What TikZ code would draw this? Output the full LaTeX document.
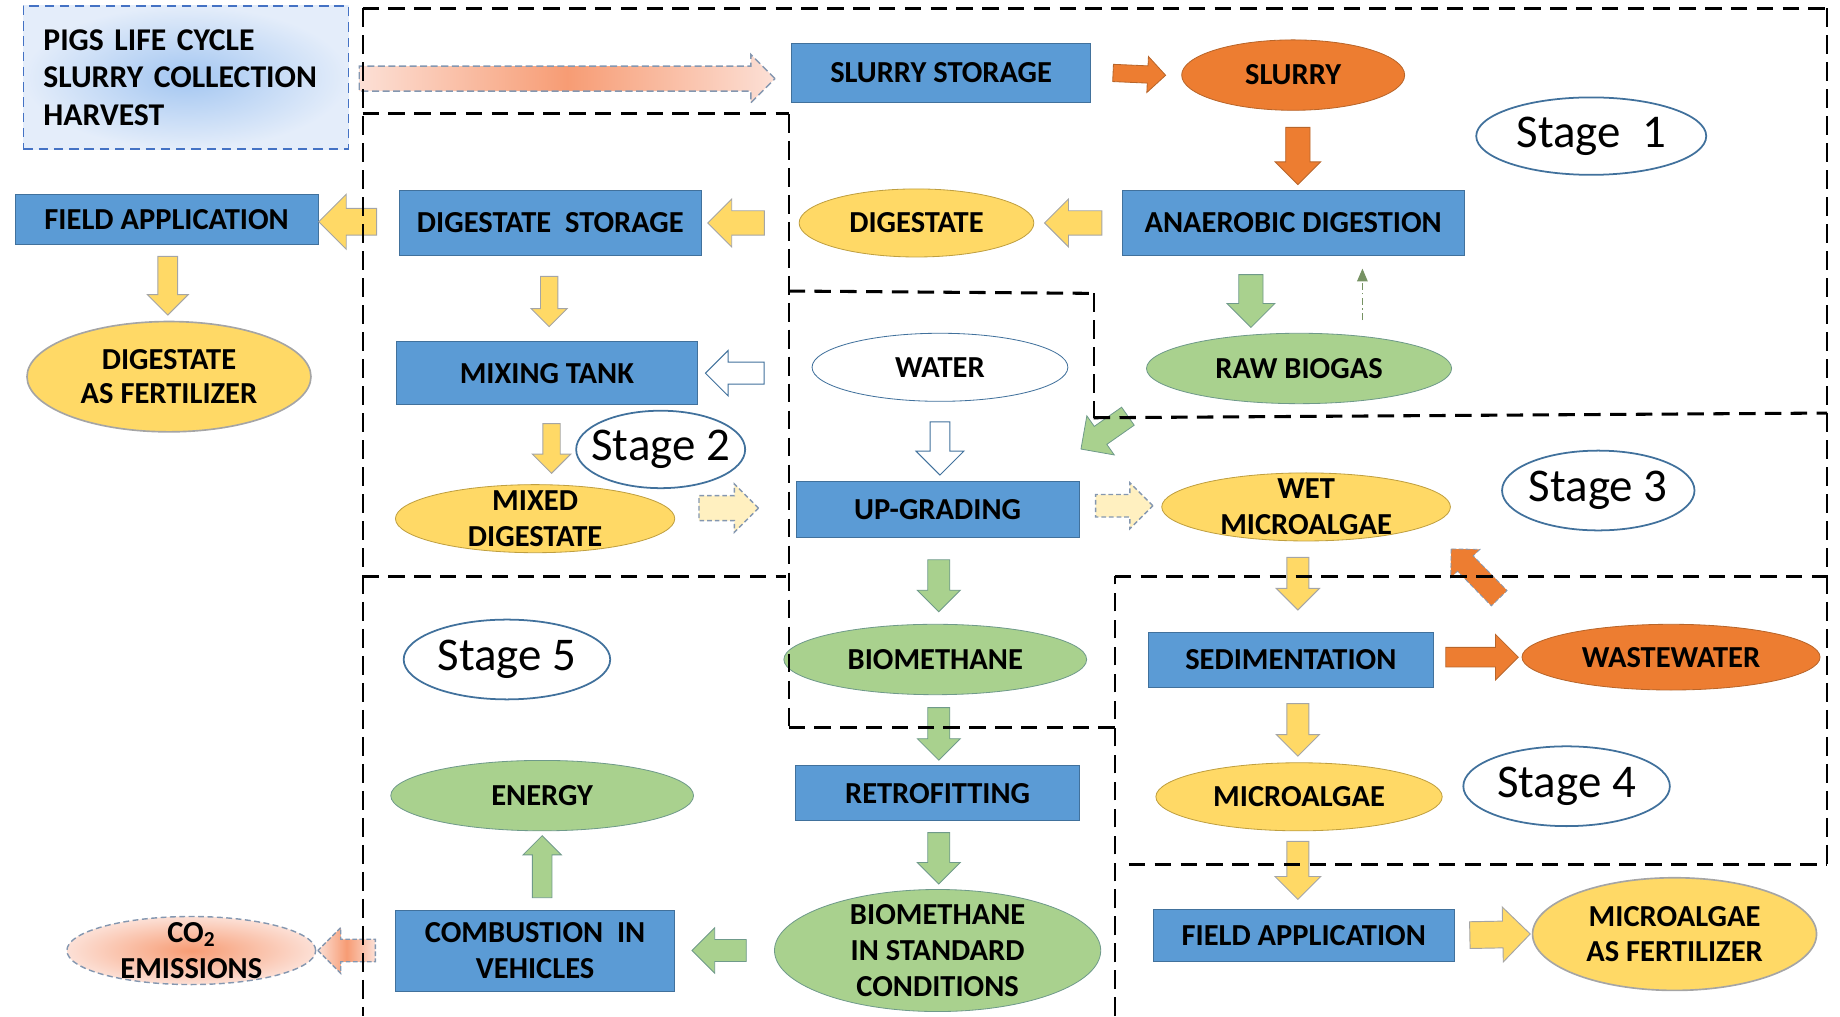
\documentclass[tikz,border=0pt]{standalone}
\usepackage{fontspec}
\setmainfont{Carlito}
\usetikzlibrary{shapes.geometric,shapes.arrows,calc,arrows.meta}

\definecolor{bl}{HTML}{5B9BD5}
\definecolor{blD}{HTML}{41719C}
\definecolor{org}{HTML}{ED7D31}
\definecolor{orgD}{HTML}{B8652A}
\definecolor{yel}{HTML}{FFD966}
\definecolor{yelD}{HTML}{BF9F40}
\definecolor{grn}{HTML}{A9D18E}
\definecolor{grnD}{HTML}{6F9A8A}
\definecolor{gry}{HTML}{A5A5A5}
\definecolor{dgry}{HTML}{8497B0}
\definecolor{lyel}{HTML}{FFF0C0}
\definecolor{pinkL}{HTML}{FCE0D6}
\definecolor{pinkM}{HTML}{F79C74}
\definecolor{topIn}{HTML}{A3C6F1}
\definecolor{topOut}{HTML}{E4EDFA}
\definecolor{topDash}{HTML}{4472C4}

\newcommand\lbl{\fontsize{26}{31}\selectfont\bfseries}
\newcommand\stg{\fontsize{40}{44}\selectfont}

\newcommand\barrow[3]{\path let \p1=(#2), \p2=(#3),
  \n1={atan2(\y2-\y1,\x2-\x1)}, \n2={veclen(\x2-\x1,\y2-\y1)} in
  node[single arrow, inner xsep=0pt, single arrow head indent=0pt, #1,
       rotate=\n1, minimum height=\n2] at ($(\p1)!0.5!(\p2)$) {};}

\tikzset{
  box/.style={rectangle, fill=bl, draw=blD, line width=0.7, inner sep=0pt, font=\lbl, align=center},
  ell/.style={ellipse, line width=0.7, inner sep=-45pt, font=\lbl, align=center},
  stage/.style={ellipse, draw=blD, line width=1.5, fill=white, inner sep=-30pt, font=\stg},
  ba/.style 2 args={inner ysep=#1, single arrow head extend=#2},
  oarr/.style={fill=org, draw=orgD, line width=0.7},
  yarr/.style={fill=yel, draw=gry, line width=0.8},
  garr/.style={fill=grn, draw=grnD, line width=0.7},
  warr/.style={fill=white, draw=blD, line width=0.8},
  dyarr/.style={fill=lyel, draw=dgry, line width=1.2, dash pattern=on 4pt off 2.5pt},
  parr/.style={draw=dgry, line width=1.2, left color=pinkL, right color=pinkL, middle color=pinkM},
  regH/.style={line width=2.6, dash pattern=on 14pt off 8pt},
  regV/.style={line width=1.8, dash pattern=on 16pt off 7pt},
}

\begin{document}
\begin{tikzpicture}[x=1pt,y=-1pt]
\useasboundingbox (0,0) rectangle (1568,866);

% ---- top-left source box
\node[rectangle, draw=topDash, line width=1.6, dash pattern=on 8pt off 5pt,
      inner color=topIn, outer color=topOut, minimum width=277, minimum height=122,
      text width=243, align=left, inner sep=0pt, font=\fontsize{27}{32}\selectfont\bfseries]
      (plc) at (158.5,66) {PIGS LIFE CYCLE\\SLURRY COLLECTION\\HARVEST};

% ---- nodes
\node[box, minimum width=255, minimum height=50] (ss) at (802,62) {SLURRY STORAGE};
\node[ell, fill=org, draw=orgD, minimum width=190, minimum height=60] (sl) at (1102,64) {SLURRY};
\node[stage, minimum width=196, minimum height=66] (s1) at (1356,116) {Stage\ \ 1};
\node[box, minimum width=291, minimum height=55] (ad) at (1102,190) {ANAEROBIC DIGESTION};
\node[ell, fill=yel, draw=yelD, minimum width=200, minimum height=58] (dg) at (781,190) {DIGESTATE};
\node[box, minimum width=258, minimum height=55] (ds) at (469,190) {DIGESTATE\ \ STORAGE};
\node[box, minimum width=258, minimum height=42] (fa1) at (142,187) {FIELD APPLICATION};
\node[ell, fill=yel, draw=gry, line width=1.4, minimum width=242, minimum height=94] (daf) at (144,321) {DIGESTATE\\[-2pt]AS FERTILIZER};
\node[box, minimum width=257, minimum height=54] (mt) at (466,318) {MIXING TANK};
\node[ell, fill=white, draw=blD, minimum width=218, minimum height=58] (wt) at (801,313) {WATER};
\node[ell, fill=grn, draw=grnD, minimum width=260, minimum height=60] (rb) at (1107,314) {RAW BIOGAS};
\node[ell, fill=yel, draw=yelD, minimum width=238, minimum height=58] (md) at (456,442) {MIXED\\DIGESTATE};
\node[stage, minimum width=144, minimum height=66] (s2) at (563,383) {Stage 2};
\node[box, minimum width=241, minimum height=48] (ug) at (799,434) {UP-GRADING};
\node[ell, fill=yel, draw=yelD, minimum width=246, minimum height=58] (wm) at (1113,432) {WET\\MICROALGAE};
\node[stage, minimum width=164, minimum height=68] (s3) at (1362,418) {Stage 3};
\node[ell, fill=grn, draw=grnD, minimum width=258, minimum height=60] (bm) at (797,562) {BIOMETHANE};
\node[box, minimum width=243, minimum height=47] (sd) at (1100,562) {SEDIMENTATION};
\node[ell, fill=org, draw=orgD, minimum width=254, minimum height=56] (ww) at (1424,560) {WASTEWATER};
\node[stage, minimum width=176, minimum height=68] (s5) at (432,562) {Stage 5};
\node[box, minimum width=242, minimum height=47] (rf) at (799,676) {RETROFITTING};
\node[ell, fill=yel, draw=yelD, minimum width=244, minimum height=58] (ma) at (1107,679) {MICROALGAE};
\node[stage, minimum width=176, minimum height=68] (s4) at (1335,670) {Stage 4};
\node[ell, fill=grn, draw=grnD, minimum width=258, minimum height=60] (en) at (462,678) {ENERGY};
\node[ell, fill=grn, draw=grnD, minimum width=278, minimum height=104] (bsc) at (799,810) {BIOMETHANE\\IN STANDARD\\CONDITIONS};
\node[box, minimum width=238, minimum height=69] (cv) at (456,810) {COMBUSTION\ \ IN\\VEHICLES};
\node[ell, draw=dgry, line width=1.2, dash pattern=on 5pt off 3pt, inner color=pinkM, outer color=pinkL,
      minimum width=212, minimum height=58] (co) at (163,810) {CO\textsubscript{2}\\EMISSIONS};
\node[box, minimum width=257, minimum height=44] (fa2) at (1111,797) {FIELD APPLICATION};
\node[ell, fill=yel, draw=gry, line width=1.4, minimum width=242, minimum height=96] (maf) at (1427,796) {MICROALGAE\\[-2pt]AS FERTILIZER};

% ---- block arrows
\barrow{parr, dash pattern=on 6pt off 3pt, ba={10}{10}}{$(plc.east)+(3,1)$}{$(ss.west)+(-19,5)$}
\barrow{oarr, ba={7}{8}}{$(ss.east)+(15,0)$}{$(sl.west)+(-17,0)$}
\barrow{oarr, ba={10}{9}}{$(sl.south)+(4,9)$}{$(ad.north)+(4,-10)$}
\barrow{yarr, ba={10}{10}}{$(ad.west)+(-12,0)$}{$(dg.east)+(14,0)$}
\barrow{yarr, ba={10}{10}}{$(dg.west)+(-24,0)$}{$(ds.east)+(10,0)$}
\barrow{yarr, ba={11}{12}}{$(ds.west)+(-13,-1)$}{$(fa1.east)+(6,2)$}
\barrow{yarr, ba={8}{9}}{$(fa1.south)+(1,6)$}{$(daf.north)+(-1,-9)$}
\barrow{yarr, ba={7}{8}}{$(ds.south)+(-1,14)$}{$(mt.north)+(2,-16)$}
\barrow{warr, ba={9}{10}}{$(mt.east)+(61,0)$}{$(mt.east)+(11,0)$}
\barrow{garr, ba={10}{10}}{$(ad.south)+(-36,11)$}{$(ad.south)+(-36,56)$}
\draw[draw=grn!70!black, line width=1.2, dash pattern=on 6pt off 3pt on 1pt off 3pt,
      -{Triangle[length=11pt,width=9pt]}] ($(ad.south)+(59,55)$) -- ($(ad.south)+(59,11)$);
\barrow{garr, ba={9}{11}}{$(rb.center)+(-142,38)$}{$(rb.center)+(-182,66)$}
\barrow{warr, ba={8}{12}}{$(wt.south)+(0,13)$}{$(ug.north)+(2,-9)$}
\barrow{yarr, ba={7}{9}}{$(mt.south)+(4,12)$}{$(md.north)+(14,-13)$}
\barrow{dyarr, ba={10}{10}}{$(md.east)+(15,-9)$}{$(ug.west)+(-37,-1)$}
\barrow{dyarr, ba={9}{10}}{$(ug.east)+(9,-3)$}{$(wm.west)+(-12,-1)$}
\barrow{garr, ba={9}{9}}{$(ug.south)+(1,14)$}{$(bm.north)+(3,-15)$}
\barrow{yarr, ba={9}{9}}{$(wm.south)+(-7,9)$}{$(sd.north)+(6,-23)$}
\barrow{oarr, draw=dgry, dash pattern=on 4pt off 2pt, ba={9}{8}}{$(sd.north east)+(59,-25)$}{$(sd.north east)+(18,-67)$}
\barrow{oarr, ba={8}{11}}{$(sd.east)+(6,-2)$}{$(ww.west)+(-7,0)$}
\barrow{garr, ba={9}{9}}{$(bm.south)+(3,6)$}{$(rf.north)+(1,-9)$}
\barrow{yarr, ba={9}{9}}{$(sd.south)+(6,9)$}{$(ma.north)+(-1,-10)$}
\barrow{garr, ba={9}{9}}{$(rf.south)+(1,5)$}{$(bsc.north)+(1,-9)$}
\barrow{yarr, ba={9}{10}}{$(ma.south)+(-1,4)$}{$(fa2.north)+(-5,-13)$}
\barrow{garr, ba={8}{8}}{$(cv.north)+(6,-6)$}{$(en.south)+(0,8)$}
\barrow{garr, ba={9}{10}}{$(bsc.west)+(-19,0)$}{$(cv.east)+(19,0)$}
\barrow{parr, dash pattern=on 4pt off 2pt, ba={9}{10}}{$(cv.west)+(-12,0)$}{$(co.east)+(6,0)$}
\barrow{yarr, ba={11}{12}}{$(fa2.east)+(7,0)$}{$(maf.west)+(-7,0)$}

% ---- stage boundaries
\draw[regH] (309,7) -- (1557,7);
\draw[regV] (1557,7) -- (1557,737);
\draw[regV] (309,7) -- (309,866);
\draw[regH] (309,97) -- (672,97);
\draw[regV] (672,97) -- (672,620);
\draw[regH] (672,620) -- (950,620);
\draw[regH] (672,248) -- (932,250);
\draw[regV] (932,250) -- (932,356);
\draw[regH] (932,356) -- (1557,352);
\draw[regH] (309,491) -- (670,491);
\draw[regV] (950,866) -- (950,491);
\draw[regH] (950,491) -- (1562,491);
\draw[regH] (962,737) -- (1557,737);
\end{tikzpicture}
\end{document}
